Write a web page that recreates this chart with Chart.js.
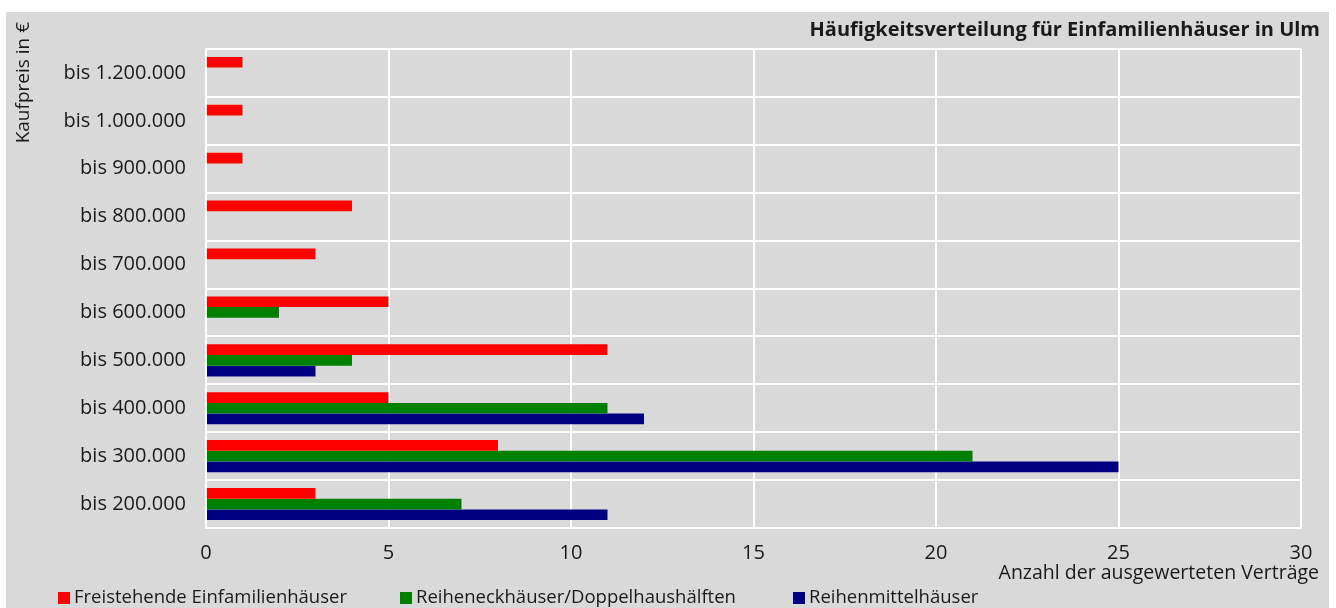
<!DOCTYPE html>
<html lang="de">
<head>
  <meta charset="UTF-8" />
  <title>Häufigkeitsverteilung für Einfamilienhäuser in Ulm</title>
  <script src="https://cdn.jsdelivr.net/npm/chart.js"></script>
  <style>
    html, body { margin: 0; padding: 0; background: #fff; }
    .chart-box {
      position: absolute;
      left: 6px;
      top: 12px;
      width: 1323px;
      height: 596px;
      background: #d9d9d9;
    }
    canvas { display: block; }
  </style>
</head>
<body>
  <div class="chart-box">
    <canvas id="priceChart" width="1323" height="596"></canvas>
  </div>

  <script>
    // Preisklassen (von oben nach unten)
    const categories = ['bis 1.200.000', 'bis 1.000.000', 'bis 900.000', 'bis 800.000', 'bis 700.000',
                        'bis 600.000', 'bis 500.000', 'bis 400.000', 'bis 300.000', 'bis 200.000'];

    const freistehend = [1, 1, 1, 4, 3, 5, 11, 5, 8, 3];
    const reiheneck   = [null, null, null, null, null, 2, 4, 11, 21, 7];
    const reihenmitte = [null, null, null, null, null, null, 3, 12, 25, 11];

    const xTicks = [0, 5, 10, 15, 20, 25, 30];

    const seriesNames = ['Freistehende Einfamilienhäuser', 'Reiheneckhäuser/Doppelhaushälften', 'Reihenmittelhäuser'];
    const seriesColors = ['#ff0000', '#008000', '#000080'];

    const FONT = "'Open Sans', sans-serif";
    const TEXT = '#1a1a1a';

    // Titel, Achsentitel und Legende selbst zeichnen
    const labelsPlugin = {
      id: 'labels',
      afterDraw(chart) {
        const c = chart.ctx;
        c.save();
        c.fillStyle = TEXT;
        c.textBaseline = 'middle';

        c.font = 'bold 20px ' + FONT;
        c.textAlign = 'right';
        c.fillText('Häufigkeitsverteilung für Einfamilienhäuser in Ulm', 1314, 18);

        c.font = '19.5px ' + FONT;
        c.fillText('Anzahl der ausgewerteten Verträge', 1313, 561);

        c.save();
        c.font = '19px ' + FONT;
        c.translate(18, 10);
        c.rotate(-Math.PI / 2);
        c.textAlign = 'right';
        c.fillText('Kaufpreis in €', 0, 0);
        c.restore();

        const legendX = [52, 394, 787];
        c.font = '18.5px ' + FONT;
        c.textAlign = 'left';
        chart.data.datasets.forEach((ds, i) => {
          c.fillStyle = ds.backgroundColor;
          c.fillRect(legendX[i], 580, 12, 12);
          c.fillStyle = TEXT;
          c.fillText(ds.label, legendX[i] + 16, 586);
        });
        c.restore();
      }
    };

    new Chart(document.getElementById('priceChart'), {
      type: 'bar',
      data: {
        labels: categories,
        datasets: [freistehend, reiheneck, reihenmitte].map((d, i) => ({
          label: seriesNames[i],
          data: d,
          backgroundColor: seriesColors[i],
          barPercentage: 1,
          categoryPercentage: 0.67
        }))
      },
      options: {
        indexAxis: 'y',
        responsive: false,
        devicePixelRatio: 1,
        animation: false,
        layout: { padding: { top: 37, right: 28, left: 0, bottom: 0 } },
        plugins: {
          legend: { display: false },
          title: { display: false },
          tooltip: { enabled: false }
        },
        scales: {
          x: {
            min: 0,
            max: 30,
            afterBuildTicks: (s) => { s.ticks = xTicks.map(v => ({ value: v })); },
            afterFit: (s) => { s.height = 80; },
            ticks: { color: TEXT, font: { family: FONT, size: 20 }, padding: 13 },
            grid: { color: '#ffffff', lineWidth: 2, drawTicks: false },
            border: { color: '#ffffff', width: 2 }
          },
          y: {
            afterFit: (s) => { s.width = 200; },
            ticks: { color: TEXT, font: { family: FONT, size: 20 }, padding: 20 },
            grid: { color: '#ffffff', lineWidth: 2, drawTicks: false },
            border: { color: '#ffffff', width: 2 }
          }
        }
      },
      plugins: [labelsPlugin]
    });
  </script>
</body>
</html>
